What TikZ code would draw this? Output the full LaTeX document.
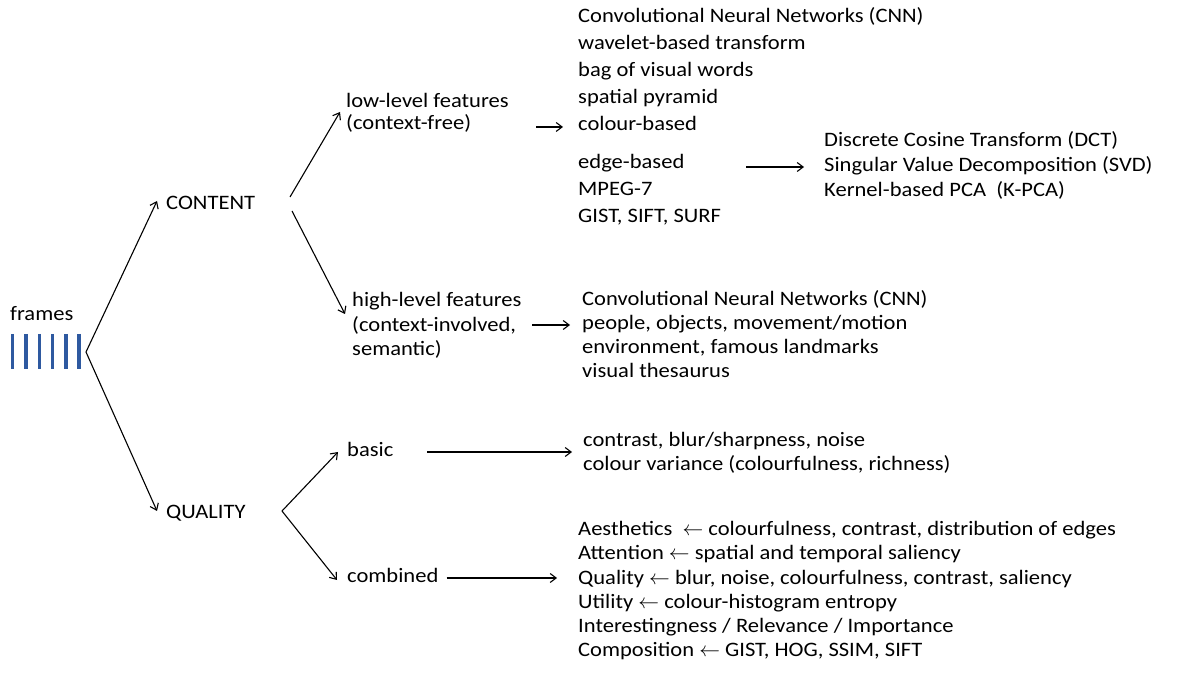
\documentclass[tikz,border=0pt]{standalone}
\usepackage{fontspec}
\setmainfont{Carlito}[FakeStretch=1.1]
\usetikzlibrary{arrows.meta}
\begin{document}
\begin{tikzpicture}[x=1pt,y=-1pt,
  txt/.style={anchor=base west,inner sep=0pt,font=\fontsize{20.5}{24}\selectfont},
  arr/.style={line width=1.1pt,-{Straight Barb[length=6pt,width=9pt]}},
  bar/.style={line width=3.5pt,draw={rgb,255:red,46;green,89;blue,160}}]
\useasboundingbox (0,0) rectangle (1179,684);
% frames
\node[txt] (frames) at (10,321) {frames};
\foreach \x in {12.7,26,39.3,52.6,65.9,79.2}{\draw[bar] (\x,334) -- (\x,369);}
\coordinate (fv) at (86,352);
\coordinate (cin) at (157,201);
\coordinate (qin) at (157,511);
\draw[arr] (fv) -- (cin);
\draw[arr] (fv) -- (qin);
\node[txt] (content) at (166,210) {CONTENT};
\node[txt] (quality) at (166,519) {QUALITY};
% content branches
\coordinate (c1) at (290,197);
\coordinate (c2) at (292,211);
\coordinate (lowin) at (340,112);
\coordinate (highin) at (345,314);
\draw[arr] (c1) -- (lowin);
\draw[arr] (c2) -- (highin);
\node[txt] (low1) at (346,108) {low-level features};
\node[txt] (low2) at (346,130) {(context-free)};
\node[txt] (high1) at (352,307) {high-level features};
\node[txt] (high2) at (352,332) {(context-involved,};
\node[txt] (high3) at (352,356) {semantic)};
% quality branches
\coordinate (q1) at (282,511);
\coordinate (basicin) at (338,452);
\coordinate (combin) at (337,580);
\draw[arr] (q1) -- (basicin);
\draw[arr] (q1) -- (combin);
\node[txt] (basic) at (347,457) {basic};
\node[txt] (comb) at (347,583) {combined};
% low-level list
\foreach \t [count=\i] in {Convolutional Neural Networks (CNN),wavelet-based transform,bag of visual words,spatial pyramid,colour-based}
  {\node[txt] (la\i) at (578,{23+27*(\i-1)}) {\t};}
\foreach \t [count=\i] in {edge-based,MPEG-7,{GIST, SIFT, SURF}}
  {\node[txt] (lb\i) at (578,{169+27*(\i-1)}) {\t};}
\coordinate (a1s) at (536,127);
\coordinate (a1e) at (563,127);
\draw[arr] (a1s) -- (a1e);
% dct list
\foreach \t [count=\i] in {Discrete Cosine Transform (DCT),Singular Value Decomposition (SVD),Kernel-based PCA~~(K-PCA)}
  {\node[txt] (d\i) at (824,{147+25*(\i-1)}) {\t};}
\coordinate (a2s) at (746,167);
\coordinate (a2e) at (804,167);
\draw[arr] (a2s) -- (a2e);
% high-level list
\foreach \t [count=\i] in {Convolutional Neural Networks (CNN),{people, objects, movement/motion},{environment, famous landmarks},visual thesaurus}
  {\node[txt] (h\i) at (582,{306+24*(\i-1)}) {\t};}
\coordinate (a3s) at (532,325);
\coordinate (a3e) at (570,325);
\draw[arr] (a3s) -- (a3e);
% basic list
\node[txt] (b1) at (583,447) {contrast, blur/sharpness, noise};
\node[txt] (b2) at (583,471) {colour variance (colourfulness, richness)};
\coordinate (a4s) at (427,452);
\coordinate (a4e) at (572,452);
\draw[arr] (a4s) -- (a4e);
% combined list
\node[txt] (m1) at (578,536) {Aesthetics~~$\leftarrow$ colourfulness, contrast, distribution of edges};
\node[txt] (m2) at (578,560) {Attention $\leftarrow$ spatial and temporal saliency};
\node[txt] (m3) at (578,584) {Quality $\leftarrow$ blur, noise, colourfulness, contrast, saliency};
\node[txt] (m4) at (578,608) {Utility $\leftarrow$ colour-histogram entropy};
\node[txt] (m5) at (578,632) {Interestingness / Relevance / Importance};
\node[txt] (m6) at (578,656) {Composition $\leftarrow$ GIST, HOG, SSIM, SIFT};
\coordinate (a5e) at (557,578);
\draw[arr] ([xshift=8pt]comb.east |- a5e) -- (a5e);
\end{tikzpicture}
\end{document}
